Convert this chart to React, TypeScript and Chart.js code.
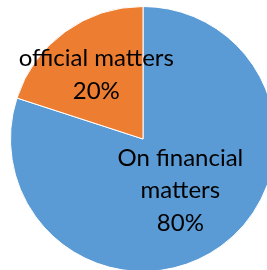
import React, { useEffect, useRef } from "react";
import { Chart, registerables } from "chart.js";

Chart.register(...registerables);

const categories = ["On financial matters", "official matters"];
const values = [80, 20];
const labelLines = [["On financial", "matters", "80%"], ["official matters", "20%"]];
const colors = ["#5B9BD5", "#ED7D31"];
const labelRadiusFactors = [0.48, 0.6];

const labelPlugin = {
  id: "sliceLabels",
  afterDatasetsDraw(chart: any) {
    const ctx = chart.ctx;
    const meta = chart.getDatasetMeta(0);
    ctx.save();
    ctx.fillStyle = "#000";
    ctx.font = "24px Lato, 'Open Sans', sans-serif";
    ctx.textAlign = "center";
    ctx.textBaseline = "middle";
    meta.data.forEach((arc: any, i: number) => {
      const p = arc.getProps(["x", "y", "startAngle", "endAngle", "outerRadius"], true);
      const mid = (p.startAngle + p.endAngle) / 2;
      const r = p.outerRadius * labelRadiusFactors[i];
      const cx = p.x + Math.cos(mid) * r;
      const cy = p.y + Math.sin(mid) * r;
      const lines = labelLines[i];
      const lh = 32.5;
      lines.forEach((t, j) => {
        ctx.fillText(t, cx, cy + (j - (lines.length - 1) / 2) * lh);
      });
    });
    ctx.restore();
  },
};

export default function App() {
  const ref = useRef<HTMLCanvasElement>(null);
  useEffect(() => {
    if (!ref.current) return;
    const chart = new Chart(ref.current, {
      type: "pie",
      data: {
        labels: categories,
        datasets: [
          {
            data: values,
            backgroundColor: colors,
            borderColor: "#ffffff",
            borderWidth: 1,
          },
        ],
      },
      options: {
        responsive: false,
        animation: false,
        layout: { padding: 0 },
        plugins: { legend: { display: false }, tooltip: { enabled: false } },
      },
      plugins: [labelPlugin],
    });
    return () => chart.destroy();
  }, []);
  return (
    <div style={{ position: "fixed", left: 0, top: 0, width: 267, height: 270, overflow: "hidden", background: "#fff" }}>
      <canvas ref={ref} width={266} height={266} style={{ position: "absolute", left: 10, top: 6, width: 266, height: 266 }} />
    </div>
  );
}
